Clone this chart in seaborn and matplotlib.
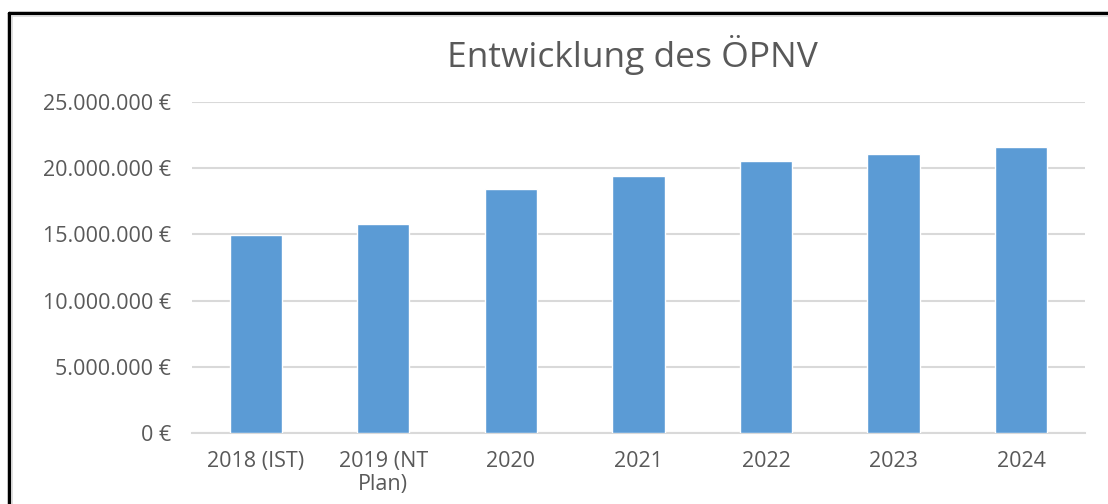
import matplotlib
matplotlib.use("Agg")
import matplotlib.pyplot as plt
import pandas as pd
import seaborn as sns
from matplotlib.lines import Line2D
from matplotlib.ticker import FuncFormatter

# data
categories = ["2018 (IST)", "2019 (NT\nPlan)", "2020", "2021", "2022", "2023", "2024"]
values = [14_950_000, 15_750_000, 18_450_000, 19_400_000, 20_550_000, 21_100_000, 21_600_000]
yticks = [0, 5_000_000, 10_000_000, 15_000_000, 20_000_000, 25_000_000]

df = pd.DataFrame({"Jahr": categories, "Betrag": values})

sns.set_style("white")
plt.rcParams["font.family"] = ["Open Sans", "DejaVu Sans"]

fig = plt.figure(figsize=(11.08, 5.04), dpi=100)
ax = fig.add_axes([0.1733, 0.1409, 0.8057, 0.6567])

sns.barplot(data=df, x="Jahr", y="Betrag", color="#5b9bd5", width=0.41,
            saturation=1, ax=ax, zorder=3)

ax.set_ylim(0, 25_000_000)
ax.set_xlim(-0.5, len(categories) - 0.5)
ax.set_yticks(yticks)
ax.yaxis.set_major_formatter(FuncFormatter(lambda v, p: f"{int(v):,} €".replace(",", ".")))
ax.grid(axis="y", color="#d9d9d9", linewidth=1.5, zorder=0)
ax.set_axisbelow(True)
for s in ["top", "right", "left"]:
    ax.spines[s].set_visible(False)
ax.spines["bottom"].set_color("#d9d9d9")
ax.spines["bottom"].set_linewidth(1.5)
ax.set_xlabel("")
ax.set_ylabel("")
ax.tick_params(axis="y", length=0, pad=15, labelsize=15.5, labelcolor="#595959")
ax.tick_params(axis="x", length=0, pad=13, labelsize=15.5, labelcolor="#595959")
for lbl in ax.get_xticklabels():
    lbl.set_multialignment("center")
    lbl.set_linespacing(1.15)

fig.text(0.571, 0.89, "Entwicklung des ÖPNV", ha="center", va="center",
         fontsize=25.5, color="#595959")

# frame around the chart (black left/top edge with a grey shadow)
fig.add_artist(Line2D([9 / 1108, 9 / 1108], [0, 1 - 13 / 504], color="black", lw=2.5,
                      transform=fig.transFigure))
fig.add_artist(Line2D([9 / 1108, 1], [1 - 13 / 504, 1 - 13 / 504], color="black", lw=2.5,
                      transform=fig.transFigure))
fig.add_artist(Line2D([12 / 1108, 12 / 1108], [0, 1 - 16 / 504], color="#d9d9d9", lw=1.2,
                      transform=fig.transFigure))
fig.add_artist(Line2D([12 / 1108, 1], [1 - 16 / 504, 1 - 16 / 504], color="#d9d9d9", lw=1.2,
                      transform=fig.transFigure))

fig.savefig("out.png", dpi=100)
